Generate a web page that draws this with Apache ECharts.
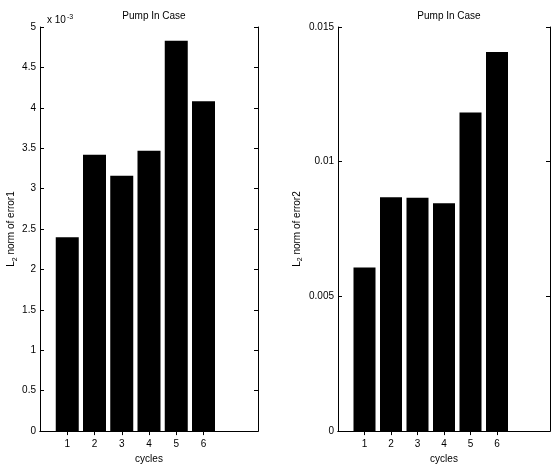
<!DOCTYPE html>
<html>
<head>
<meta charset="utf-8">
<script src="https://cdn.jsdelivr.net/npm/echarts@6/dist/echarts.min.js"></script>
<style>html,body{margin:0;padding:0;background:#fff;}#c{width:555px;height:469px;}</style>
</head>
<body>
<div id="c"></div>
<script>
var cycles = ['1', '2', '3', '4', '5', '6'];
var error1 = [0.00240, 0.00342, 0.00316, 0.00347, 0.00483, 0.00408];
var error2 = [0.00607, 0.00868, 0.00866, 0.00846, 0.01183, 0.01407];
var error1Ticks = ['0', '0.5', '1', '1.5', '2', '2.5', '3', '3.5', '4', '4.5', '5'];
var error2Ticks = ['0', '0.005', '0.01', '0.015'];
var plotTitle = 'Pump In Case';

var axisCats = [''].concat(cycles, ['', '']);
function pad(arr) { return [null].concat(arr, [null, null]); }
var FONT = 'Liberation Sans, Arial, sans-serif';
var tickInt = function (idx) { return idx >= 1 && idx <= cycles.length; };

function xAxes(gi) {
  return [{
    type: 'category', gridIndex: gi, data: axisCats, boundaryGap: false, position: 'bottom',
    axisLine: { lineStyle: { color: '#000', width: 1 } },
    axisTick: { inside: true, length: 4, interval: tickInt, lineStyle: { color: '#000' } },
    axisLabel: { interval: 0, color: '#000', fontSize: 10, fontFamily: FONT, margin: 8 },
    name: 'cycles', nameLocation: 'middle', nameGap: 22,
    nameTextStyle: { color: '#000', fontSize: 10, fontFamily: FONT },
    splitLine: { show: false }
  }, {
    type: 'category', gridIndex: gi, data: axisCats, boundaryGap: false, position: 'top',
    axisLine: { lineStyle: { color: '#000', width: 1 } },
    axisTick: { inside: true, length: 4, interval: tickInt, lineStyle: { color: '#000' } },
    axisLabel: { show: false }, splitLine: { show: false }
  }];
}

function yAxes(gi, max, interval, labels, nameRich, gap) {
  return [{
    type: 'value', gridIndex: gi, min: 0, max: max, interval: interval, position: 'left',
    axisLine: { show: true, lineStyle: { color: '#000', width: 1 } },
    axisTick: { show: true, inside: true, length: 4, lineStyle: { color: '#000' } },
    axisLabel: {
      color: '#000', fontSize: 10, fontFamily: FONT, margin: 4,
      formatter: function (v) { return labels[Math.round(v / interval)]; }
    },
    splitLine: { show: false },
    name: nameRich, nameLocation: 'middle', nameGap: gap,
    nameTextStyle: {
      color: '#000', fontSize: 10, fontFamily: FONT,
      rich: {
        a: { fontSize: 10, fontFamily: FONT, color: '#000' },
        s: { fontSize: 7, fontFamily: FONT, color: '#000', verticalAlign: 'bottom', padding: [6, 0, 0, 0] }
      }
    }
  }, {
    type: 'value', gridIndex: gi, min: 0, max: max, interval: interval, position: 'right',
    axisLine: { show: true, lineStyle: { color: '#000', width: 1 } },
    axisTick: { show: true, inside: true, length: 4, lineStyle: { color: '#000' } },
    axisLabel: { show: false }, splitLine: { show: false }
  }];
}

var chart = echarts.init(document.getElementById('c'), null, { renderer: 'canvas' });
chart.setOption({
  animation: false,
  backgroundColor: '#fff',
  title: [
    { text: plotTitle, left: 149, top: 6, textAlign: 'center',
      textStyle: { fontSize: 10, fontWeight: 'normal', color: '#000', fontFamily: FONT } },
    { text: plotTitle, left: 444, top: 6, textAlign: 'center',
      textStyle: { fontSize: 10, fontWeight: 'normal', color: '#000', fontFamily: FONT } },
    { text: '{a|x 10}{s|-3}', left: 42, top: 9,
      textStyle: { fontSize: 10, fontWeight: 'normal', color: '#000', fontFamily: FONT,
        rich: { a: { fontSize: 10, fontWeight: 'normal', fontFamily: FONT, color: '#000' },
                s: { fontSize: 7, fontWeight: 'normal', fontFamily: FONT, color: '#000', verticalAlign: 'top', padding: [0, 0, 6, 1] } } } }
  ],
  grid: [
    { left: 40, top: 27, width: 218, height: 409 },
    { left: 338, top: 27, width: 212, height: 409 }
  ],
  xAxis: xAxes(0).concat(xAxes(1)),
  yAxis: yAxes(0, 0.005, 0.0005, error1Ticks, '{a|L}{s|2}{a| norm of error1}', 21)
    .concat(yAxes(1, 0.015, 0.005, error2Ticks, '{a|L}{s|2}{a| norm of error2}', 34)),
  series: [
    { type: 'bar', xAxisIndex: 0, yAxisIndex: 0, data: pad(error1), barWidth: 23,
      itemStyle: { color: '#000' }, silent: true },
    { type: 'bar', xAxisIndex: 2, yAxisIndex: 2, data: pad(error2), barWidth: 22,
      itemStyle: { color: '#000' }, silent: true }
  ]
});
</script>
</body>
</html>
